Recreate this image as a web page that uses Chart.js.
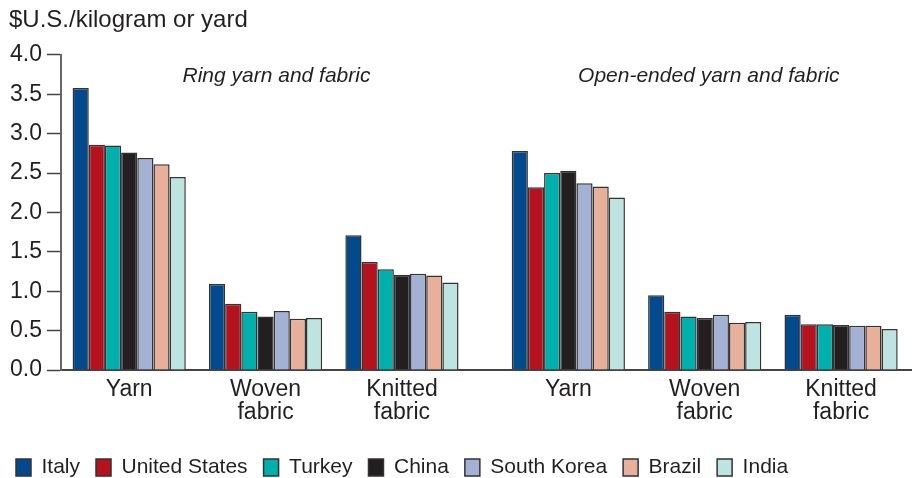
<!DOCTYPE html>
<html lang="en">
<head>
    <meta charset="UTF-8">
    <title>Yarn and fabric costs</title>
    <script src="https://cdn.jsdelivr.net/npm/chart.js"></script>
    <style>
        body { margin: 0; background: #fff; }
        #wrap { width: 912px; height: 478px; }
    </style>
</head>
<body>
    <div id="wrap"><canvas id="costChart"></canvas></div>
    <script>
        // groups: 3 ring-spun, then 3 open-ended
        const groupLabels = [['Yarn'], ['Woven', 'fabric'], ['Knitted', 'fabric'], ['Yarn'], ['Woven', 'fabric'], ['Knitted', 'fabric']];
        const countries = ['Italy', 'United States', 'Turkey', 'China', 'South Korea', 'Brazil', 'India'];
        const colors = ['#024a8c', '#b5121d', '#00b0ac', '#231f20', '#a3b1d4', '#e8b09a', '#bde4e1'];

        const italy = [3.58, 1.09, 1.71, 2.78, 0.95, 0.70];
        const unitedStates = [2.86, 0.84, 1.37, 2.32, 0.74, 0.58];
        const turkey = [2.85, 0.74, 1.28, 2.50, 0.68, 0.58];
        const china = [2.76, 0.68, 1.21, 2.53, 0.66, 0.57];
        const southKorea = [2.69, 0.75, 1.22, 2.37, 0.70, 0.56];
        const brazil = [2.61, 0.65, 1.20, 2.33, 0.60, 0.56];
        const india = [2.45, 0.66, 1.11, 2.19, 0.61, 0.52];
        const seriesValues = [italy, unitedStates, turkey, china, southKorea, brazil, india];

        const yTicks = [0, 0.5, 1, 1.5, 2, 2.5, 3, 3.5, 4];
        const panelTitles = ['Ring yarn and fabric', 'Open-ended yarn and fabric'];

        // extra space between the two panels, in group widths
        const panelGap = 0.22;
        const groupPos = groupLabels.map((g, i) => i + (i >= 3 ? panelGap : 0));

        const ink = '#231f20';
        const axisGray = '#666';

        const panelTitlePlugin = {
            id: 'panelTitles',
            afterLayout(chart) {
                // nudge the unit label off the canvas edge
                chart.titleBlock.left += 9;
                chart.titleBlock.right += 9;
            },
            afterDatasetsDraw(chart) {
                const { ctx, scales } = chart;
                const spots = [[1.08, 3.73], [4.25, 3.73]];
                ctx.save();
                ctx.font = 'italic 21px "Liberation Sans", Arial, sans-serif';
                ctx.fillStyle = ink;
                ctx.textAlign = 'center';
                ctx.textBaseline = 'middle';
                panelTitles.forEach((t, i) => {
                    ctx.fillText(t, scales.x.getPixelForValue(spots[i][0]), scales.y.getPixelForValue(spots[i][1]));
                });
                ctx.restore();
            }
        };

        Chart.defaults.font.family = '"Liberation Sans", Arial, sans-serif';
        Chart.defaults.color = ink;

        new Chart(document.getElementById('costChart'), {
            type: 'bar',
            data: {
                datasets: countries.map((name, k) => ({
                    label: name,
                    data: groupPos.map((x, i) => ({ x: x, y: seriesValues[k][i] })),
                    backgroundColor: colors[k],
                    borderColor: '#333',
                    borderWidth: 1.5,
                    categoryPercentage: 0.83,
                    barPercentage: 1.0
                }))
            },
            options: {
                responsive: true,
                maintainAspectRatio: false,
                animation: false,
                layout: { padding: { left: 0, right: 0, top: 0, bottom: -10 } },
                plugins: {
                    title: {
                        display: true,
                        text: '$U.S./kilogram or yard',
                        align: 'start',
                        font: { size: 24, weight: 'normal' },
                        color: ink,
                        padding: { top: 6, bottom: 20 }
                    },
                    legend: {
                        position: 'bottom',
                        align: 'start',
                        labels: {
                            boxWidth: 15,
                            boxHeight: 17,
                            padding: 16,
                            font: { size: 21 },
                            color: ink
                        }
                    },
                    tooltip: { enabled: false }
                },
                scales: {
                    x: {
                        type: 'linear',
                        offset: false,
                        min: -0.5,
                        max: groupPos[5] + 0.52,
                        afterBuildTicks: (axis) => { axis.ticks = groupPos.map(v => ({ value: v })); },
                        afterFit: (axis) => { axis.height = 71; },
                        grid: { offset: false, drawOnChartArea: false, drawTicks: false },
                        border: { color: '#444', width: 2 },
                        ticks: {
                            autoSkip: false,
                            maxRotation: 0,
                            padding: 8,
                            font: { size: 23, lineHeight: 1.0 },
                            color: ink,
                            callback: (v, i) => groupLabels[i]
                        }
                    },
                    y: {
                        min: 0,
                        max: 4,
                        afterBuildTicks: (axis) => { axis.ticks = yTicks.map(v => ({ value: v })); },
                        afterFit: (axis) => { axis.width = 61; },
                        grid: { drawOnChartArea: false, tickLength: 14, color: '#444', tickWidth: 1.5 },
                        border: { color: axisGray, width: 2 },
                        ticks: {
                            padding: 5,
                            font: { size: 23 },
                            color: ink,
                            callback: (v) => v.toFixed(1)
                        }
                    }
                }
            },
            plugins: [panelTitlePlugin]
        });
    </script>
</body>
</html>
